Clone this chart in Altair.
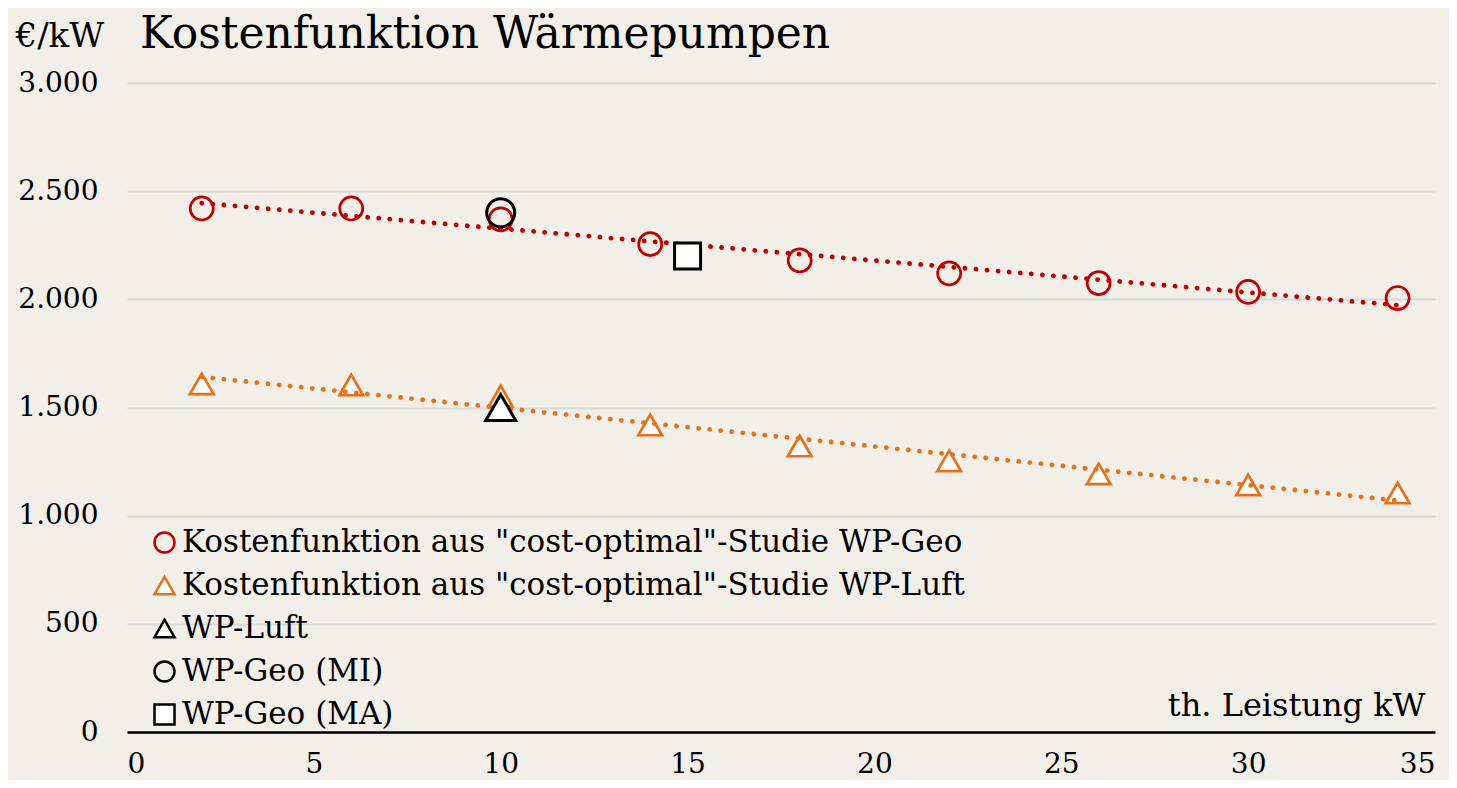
import altair as alt
import pandas as pd

# --- data ---
x_cost = [2, 6, 10, 14, 18, 22, 26, 30, 34]
geo_cost = [2420, 2420, 2370, 2255, 2180, 2120, 2075, 2034, 2006]
luft_cost = [1609, 1604, 1553, 1419, 1322, 1253, 1193, 1142, 1105]

ref_names = ["WP-Luft", "WP-Geo (MI)", "WP-Geo (MA)"]
ref_x = [10, 10, 15]
ref_y = [1500, 2400, 2200]

S_GEO = 'Kostenfunktion aus "cost-optimal"-Studie WP-Geo'
S_LUFT = 'Kostenfunktion aus "cost-optimal"-Studie WP-Luft'
series_order = [S_GEO, S_LUFT] + ref_names
stroke_range = ["#C00000", "#E8701A", "#000000", "#000000", "#000000"]
fill_range = ["transparent", "#FFFFFF", "#FFFFFF", "transparent", "#FFFFFF"]
shape_range = ["circle", "triangle-up", "triangle-up", "circle", "square"]
marker_sizes = {S_GEO: 530, S_LUFT: 560, "WP-Luft": 900, "WP-Geo (MI)": 784, "WP-Geo (MA)": 676}

cost_df = pd.DataFrame(
    {"x": x_cost * 2, "y": geo_cost + luft_cost,
     "series": [S_GEO] * len(x_cost) + [S_LUFT] * len(x_cost)}
)
ref_df = pd.DataFrame({"x": ref_x, "y": ref_y, "series": ref_names})
all_df = pd.concat([cost_df, ref_df], ignore_index=True)

FONT = "DejaVu Serif"

x_scale = alt.Scale(domain=[0, 35], nice=False, zero=True)
y_scale = alt.Scale(domain=[0, 3000], nice=False)

x_enc = alt.X(
    "x:Q", scale=x_scale,
    axis=alt.Axis(
        values=[0, 5, 10, 15, 20, 25, 30, 35], title="th. Leistung kW",
        grid=False, ticks=False, domain=True, domainColor="#000000", domainWidth=2.5,
        labelFontSize=28, labelPadding=40, labelColor="#000000", labelFont=FONT,
        labelBaseline="alphabetic",
        titleFontSize=32, titleFont=FONT, titleFontWeight="normal", titleColor="#000000",
        titleAnchor="end", titleAlign="right", titleBaseline="bottom",
        titleX=1298, titleY=-10,
    ),
)
y_enc = alt.Y(
    "y:Q", scale=y_scale,
    axis=alt.Axis(
        values=[0, 500, 1000, 1500, 2000, 2500, 3000], title="€/kW",
        labelExpr="replace(format(datum.value, ','), ',', '.')",
        grid=True, gridColor="#D9D9D9", gridWidth=2,
        ticks=False, domain=False,
        labelFontSize=28, labelPadding=29, labelColor="#000000", labelFont=FONT,
        titleFontSize=34, titleFont=FONT, titleFontWeight="normal", titleColor="#000000",
        titleAngle=0, titleAlign="left", titleBaseline="alphabetic",
        titleX=-112, titleY=-37,
    ),
)

common = dict(
    stroke=alt.Stroke("series:N", scale=alt.Scale(domain=series_order, range=stroke_range),
                      legend=alt.Legend(title=None)),
    fill=alt.Fill("series:N", scale=alt.Scale(domain=series_order, range=fill_range),
                  legend=alt.Legend(title=None)),
    shape=alt.Shape("series:N", scale=alt.Scale(domain=series_order, range=shape_range),
                    legend=alt.Legend(title=None)),
)


def point_layer(name, sw):
    return alt.Chart(all_df).transform_filter(alt.datum.series == name).mark_point(
        filled=False, size=marker_sizes[name], strokeWidth=sw, opacity=1
    ).encode(x=x_enc, y=y_enc, **common)


def trend_layer(name, color):
    return alt.Chart(cost_df).transform_filter(
        alt.datum.series == name
    ).transform_regression("x", "y", method="linear", extent=[2, 34]).mark_line(
        color=color, strokeWidth=4.8, strokeDash=[0.1, 11], strokeCap="round"
    ).encode(x="x:Q", y="y:Q")


layers = [
    point_layer(S_GEO, 2.7),
    point_layer(S_LUFT, 2.7),
    trend_layer(S_GEO, "#C00000"),
    trend_layer(S_LUFT, "#E8701A"),
    point_layer("WP-Luft", 3),
    point_layer("WP-Geo (MI)", 3),
    point_layer("WP-Geo (MA)", 3),
]

chart = alt.layer(*layers).properties(
    width=1308, height=649,
    background="#F2EFE9",
    padding={"left": 119, "top": 75, "right": 14, "bottom": 48},
    autosize=alt.AutoSizeParams(type="none"),
    title=alt.TitleParams(
        "Kostenfunktion Wärmepumpen", anchor="start", dx=125, dy=58, offset=20,
        fontSize=44, font=FONT, fontWeight="normal", color="#000000",
    ),
).configure_view(stroke=None).configure_legend(
    orient="none", legendX=22, legendY=444,
    labelFontSize=31, labelFont=FONT, labelColor="#000000", labelLimit=1200,
    symbolSize=400, symbolStrokeWidth=2.5, rowPadding=11, labelOffset=2,
    symbolType="circle",
)

chart.save("out.html", embed_options={"renderer": "svg", "actions": False})
